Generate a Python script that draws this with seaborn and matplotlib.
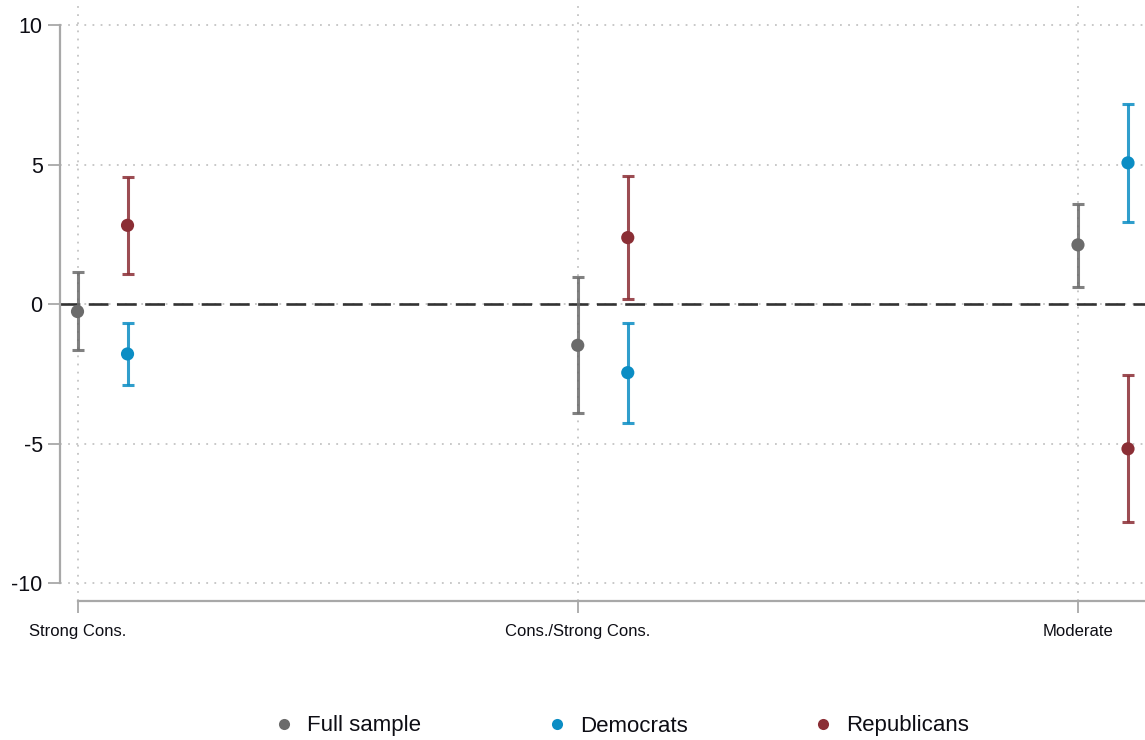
import numpy as np
import pandas as pd
import matplotlib
matplotlib.use("Agg")
import matplotlib.pyplot as plt
import seaborn as sns
from matplotlib.lines import Line2D

categories = ["Strong Cons.", "Cons./Strong Cons.", "Moderate"]
groups = ["Full sample", "Democrats", "Republicans"]

full_est = [-0.27, -1.48, 2.12]
full_lo = [-1.65, -3.91, 0.62]
full_hi = [1.13, 0.96, 3.60]

dem_est = [-1.79, -2.46, 5.06]
dem_lo = [-2.89, -4.27, 2.94]
dem_hi = [-0.69, -0.67, 7.16]

rep_est = [2.82, 2.38, -5.19]
rep_lo = [1.07, 0.17, -7.83]
rep_hi = [4.56, 4.60, -2.55]

y_ticks = [-10, -5, 0, 5, 10]

colors = {"Full sample": "#6b6b6b", "Democrats": "#0b8dc4", "Republicans": "#8b2e35"}
offsets = {"Full sample": 0.0, "Democrats": 0.1, "Republicans": 0.1}

rows = []
for g, est, lo, hi in [("Full sample", full_est, full_lo, full_hi),
                       ("Democrats", dem_est, dem_lo, dem_hi),
                       ("Republicans", rep_est, rep_lo, rep_hi)]:
    for i, c in enumerate(categories):
        rows.append({"group": g, "category": c, "pos": i + offsets[g],
                     "est": est[i], "lo": lo[i], "hi": hi[i]})
df = pd.DataFrame(rows)

sns.set_theme(style="white")
plt.rcParams["font.family"] = ["Liberation Sans", "DejaVu Sans"]

fig = plt.figure(figsize=(11.45, 7.4), dpi=100)
ax = fig.add_axes([60 / 1145, 1 - 601 / 740, 1 - 60 / 1145, (601 - 5) / 740])

grid_kw = dict(color="#c4c4c4", linestyle=(0, (1, 3.5)), linewidth=1.3, zorder=0)
for yt in y_ticks:
    ax.axhline(yt, **grid_kw)
for i in range(len(categories)):
    ax.axvline(i, **grid_kw)

ax.axhline(0, color="#333333", linestyle=(0, (7.5, 3.2)), linewidth=1.9, zorder=1)

for g in groups:
    sub = df[df.group == g]
    ax.errorbar(sub["pos"], sub["est"],
                yerr=[sub["est"] - sub["lo"], sub["hi"] - sub["est"]],
                fmt="none", ecolor=colors[g], alpha=0.85, elinewidth=2.2,
                capsize=4.5, capthick=2.2, zorder=2)

sns.scatterplot(data=df, x="pos", y="est", hue="group", hue_order=groups,
                palette=colors, s=90, edgecolor="none", linewidth=0,
                legend=False, ax=ax, zorder=3)

ax.set_xlim(-0.035, 2.134)
ax.set_ylim(-10.645, 10.717)
ax.set_xticks(range(len(categories)))
ax.set_xticklabels(categories, fontsize=12, color="#0d0d14")
ax.set_yticks(y_ticks)
ax.set_yticklabels([str(v) for v in y_ticks], fontsize=15.5, color="#0d0d14")
ax.set_xlabel("")
ax.set_ylabel("")

for s in ["top", "right"]:
    ax.spines[s].set_visible(False)
ax.spines["left"].set_bounds(-10, 10)
ax.spines["bottom"].set_bounds(0, 2.134)
for s in ["left", "bottom"]:
    ax.spines[s].set_color("#a8a8a8")
    ax.spines[s].set_linewidth(1.6)
ax.tick_params(axis="both", which="major", direction="out", length=8.5,
               width=1.3, color="#a8a8a8", left=True, bottom=True)
ax.tick_params(axis="y", pad=4)
ax.tick_params(axis="x", pad=8)

handles = [Line2D([0], [0], marker="o", linestyle="none", markersize=8,
                  markerfacecolor=colors[g], markeredgecolor="none") for g in groups]
leg = fig.legend(handles, groups, loc="center", bbox_to_anchor=(621 / 1145, 1 - 726 / 740),
                 ncol=3, frameon=False, fontsize=16, handlelength=1.0, handletextpad=0.55,
                 columnspacing=5.6)
for t in leg.get_texts():
    t.set_color("#0d0d14")

fig.savefig("out.png", dpi=100)
